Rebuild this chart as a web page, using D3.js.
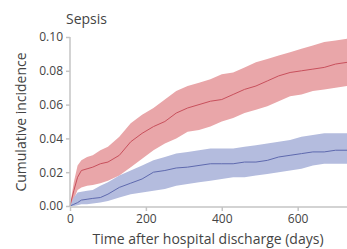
<!DOCTYPE html>
<html lang="en">
<head>
  <meta charset="utf-8">
  <title>Sepsis</title>
  <style>
    body { margin: 0; background: #fff; }
    text { font-family: "Open Sans", sans-serif; fill: #444; }
  </style>
</head>
<body>
  <script src="https://cdn.jsdelivr.net/npm/d3@7"></script>
  <script>
    var w = 347, h = 249;

    var days = [0,10,20,30,45,60,80,100,130,160,190,220,250,280,310,340,370,400,430,460,490,520,550,580,610,640,670,700,730];
    var redMean = [0,0.009,0.017,0.021,0.022,0.023,0.025,0.026,0.030,0.038,0.043,0.047,0.050,0.055,0.058,0.060,0.062,0.063,0.066,0.069,0.071,0.074,0.077,0.079,0.080,0.081,0.082,0.084,0.085];
    var redHigh = [0,0.014,0.024,0.027,0.029,0.030,0.033,0.035,0.041,0.049,0.054,0.058,0.063,0.068,0.071,0.073,0.075,0.078,0.079,0.082,0.085,0.087,0.089,0.091,0.093,0.095,0.097,0.098,0.099];
    var redLow = [0,0.004,0.0095,0.011,0.012,0.0125,0.0135,0.015,0.018,0.023,0.028,0.033,0.037,0.040,0.044,0.045,0.047,0.050,0.052,0.055,0.057,0.059,0.062,0.065,0.066,0.068,0.069,0.070,0.071];
    var blueMean = [0,0.001,0.002,0.0035,0.004,0.0045,0.005,0.007,0.011,0.0135,0.016,0.020,0.021,0.0225,0.023,0.024,0.025,0.025,0.025,0.026,0.026,0.027,0.029,0.030,0.031,0.032,0.032,0.033,0.033];
    var blueHigh = [0,0.005,0.008,0.0085,0.009,0.0095,0.012,0.014,0.018,0.021,0.024,0.027,0.029,0.031,0.032,0.033,0.034,0.034,0.034,0.035,0.036,0.037,0.038,0.039,0.041,0.042,0.043,0.043,0.043];
    var blueLow = [0,0,0.0005,0.001,0.001,0.0015,0.002,0.003,0.005,0.007,0.008,0.009,0.010,0.012,0.013,0.014,0.015,0.016,0.017,0.017,0.018,0.019,0.020,0.021,0.022,0.024,0.025,0.025,0.025];
    var yTicks = [0, 0.02, 0.04, 0.06, 0.08, 0.10];
    var xTicks = [0, 200, 400, 600];

    var svg = d3.select("body").append("svg")
      .attr("width", w)
      .attr("height", h);

    var x = d3.scaleLinear().domain([0, 730]).range([70, 347]);
    var y = d3.scaleLinear().domain([0, 0.10]).range([206, 37]);

    function band(lo, hi, fill) {
      var area = d3.area()
        .x(function(d, i) { return x(days[i]); })
        .y0(function(d, i) { return y(lo[i]); })
        .y1(function(d, i) { return y(hi[i]); });
      svg.append("path").datum(days).attr("d", area).attr("fill", fill);
    }
    function line(vals, stroke) {
      var ln = d3.line()
        .x(function(d, i) { return x(days[i]); })
        .y(function(d, i) { return y(vals[i]); });
      svg.append("path").datum(days).attr("d", ln)
        .attr("fill", "none").attr("stroke", stroke).attr("stroke-width", 1);
    }

    band(redLow, redHigh, "#e9a6a9");
    band(blueLow, blueHigh, "#b4bcde");
    line(redMean, "#c8505c");
    line(blueMean, "#5e69ae");

    // axes
    var ya = svg.append("g").attr("transform", "translate(70,0)")
      .call(d3.axisLeft(y).tickValues(yTicks).tickFormat(d3.format(".2f")).tickSize(4).tickPadding(3));
    var xa = svg.append("g").attr("transform", "translate(0,207)")
      .call(d3.axisBottom(x).tickValues(xTicks).tickSize(4).tickPadding(3));
    [ya, xa].forEach(function(a) {
      a.selectAll("path, line").attr("stroke", "#c4c4c4").attr("stroke-width", 1.5);
      a.selectAll("text").style("font-size", "12px").attr("fill", "#444");
      a.select(".domain").attr("d", a === ya ? "M0,206V37" : "M70,0H347");
    });

    svg.append("text").attr("x", 66).attr("y", 24)
      .style("font-size", "14px").text("Sepsis");

    svg.append("text").attr("transform", "translate(26,122) rotate(-90)")
      .attr("text-anchor", "middle").style("font-size", "14px")
      .text("Cumulative incidence");

    svg.append("text").attr("x", 208).attr("y", 244)
      .attr("text-anchor", "middle").style("font-size", "14px")
      .text("Time after hospital discharge (days)");
  </script>
</body>
</html>
